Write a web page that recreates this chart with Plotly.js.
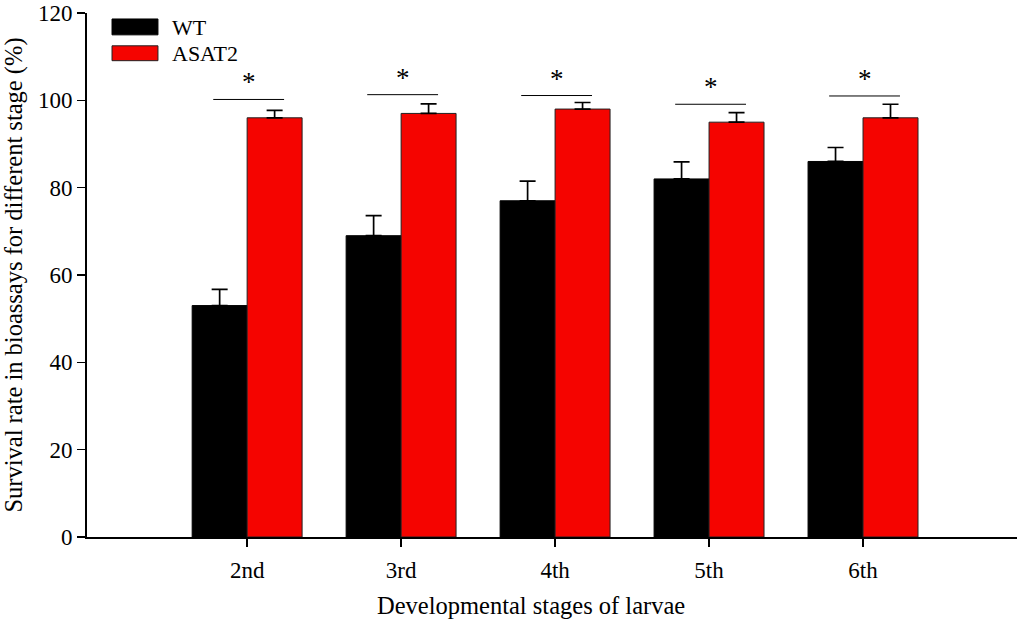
<!DOCTYPE html>
<html>
<head>
<meta charset="utf-8">
<script src="https://cdn.plot.ly/plotly-3.0.1.min.js"></script>
<style>html,body{margin:0;padding:0;background:#fff;}#chart{width:1020px;height:619px;}</style>
</head>
<body>
<div id="chart"></div>
<script>
const stages = ["2nd", "3rd", "4th", "5th", "6th"];
const wtValues = [53, 69, 77, 82, 86];
const wtErrors = [3.7, 4.6, 4.5, 3.9, 3.2];
const asatValues = [96, 97, 98, 95, 96];
const asatErrors = [1.7, 2.2, 1.5, 2.2, 3.1];
const sigLineY = [100.2, 101.3, 101.1, 99.1, 101.0];
const sigLabels = ["*", "*", "*", "*", "*"];
const yTicks = [0, 20, 40, 60, 80, 100, 120];
const seriesNames = ["WT", "ASAT2"];
const xTitle = "Developmental stages of larvae";
const yTitle = "Survival rate in bioassays for different stage (%)";

const FONT = "Liberation Serif, Times New Roman, serif";
const RED = "#f50400";

const traces = [
  {
    type: "bar", name: seriesNames[0], x: stages, y: wtValues,
    marker: {color: "#000000", line: {color: "#000000", width: 1}},
    error_y: {type: "data", symmetric: false, array: wtErrors, arrayminus: wtErrors.map(() => 0),
              color: "#000000", thickness: 1.7, width: 8},
    showlegend: false, hoverinfo: "skip"
  },
  {
    type: "bar", name: seriesNames[1], x: stages, y: asatValues,
    marker: {color: RED, line: {color: "#222222", width: 1}},
    error_y: {type: "data", symmetric: false, array: asatErrors, arrayminus: asatErrors.map(() => 0),
              color: "#000000", thickness: 1.7, width: 8},
    showlegend: false, hoverinfo: "skip"
  }
];

const shapes = [];
const annotations = [];
stages.forEach((s, i) => {
  shapes.push({type: "line", xref: "x", yref: "y", x0: i - 0.22, x1: i + 0.24,
               y0: sigLineY[i], y1: sigLineY[i], line: {color: "#000000", width: 1}});
  annotations.push({xref: "x", yref: "y", x: i + 0.01, y: sigLineY[i], text: sigLabels[i],
                    showarrow: false, yanchor: "bottom", yshift: 0,
                    font: {family: FONT, size: 27, color: "#000"}});
});

// legend boxes
shapes.push({type: "rect", xref: "paper", yref: "paper", x0: 0.0269, x1: 0.0763, y0: 0.9583, y1: 0.9886,
             fillcolor: "#000000", line: {color: "#000000", width: 1}});
shapes.push({type: "rect", xref: "paper", yref: "paper", x0: 0.0269, x1: 0.0763, y0: 0.909, y1: 0.9374,
             fillcolor: RED, line: {color: "#222222", width: 1}});
annotations.push({xref: "paper", yref: "paper", x: 0.089, y: 0.973, text: seriesNames[0], showarrow: false,
                  xanchor: "left", yanchor: "middle", font: {family: FONT, size: 22, color: "#000"}});
annotations.push({xref: "paper", yref: "paper", x: 0.089, y: 0.923, text: seriesNames[1], showarrow: false,
                  xanchor: "left", yanchor: "middle", font: {family: FONT, size: 22, color: "#000"}});
// x axis title (placed as in the reference)
annotations.push({xref: "paper", yref: "paper", x: 0.477, y: -0.13, text: xTitle, showarrow: false,
                  xanchor: "center", yanchor: "middle", font: {family: FONT, size: 24.5, color: "#000"}});

const layout = {
  width: 1020, height: 619,
  margin: {l: 87, r: 3, t: 13, b: 82},
  paper_bgcolor: "#ffffff", plot_bgcolor: "#ffffff",
  font: {family: FONT, size: 23, color: "#000"},
  barmode: "group", bargap: 0.286, bargroupgap: 0,
  xaxis: {
    type: "category", range: [-1.04, 5.0],
    showline: true, linecolor: "#000", linewidth: 2,
    ticks: "outside", ticklen: 8, tickwidth: 1.5, tickcolor: "#000",
    showgrid: false, zeroline: false, ticklabelstandoff: 3,
    tickfont: {family: FONT, size: 23, color: "#000"}
  },
  yaxis: {
    range: [0, 120], tickvals: yTicks, ticktext: yTicks.map(String),
    showline: true, linecolor: "#000", linewidth: 2,
    ticks: "outside", ticklen: 8, tickwidth: 1.5, tickcolor: "#000",
    showgrid: false, zeroline: false, ticklabeloverflow: "allow",
    tickfont: {family: FONT, size: 23, color: "#000"},
    title: {text: yTitle, font: {family: FONT, size: 24.5, color: "#000"}, standoff: 8}
  },
  shapes: shapes,
  annotations: annotations
};

Plotly.newPlot("chart", traces, layout, {displayModeBar: false, staticPlot: true});
</script>
</body>
</html>
